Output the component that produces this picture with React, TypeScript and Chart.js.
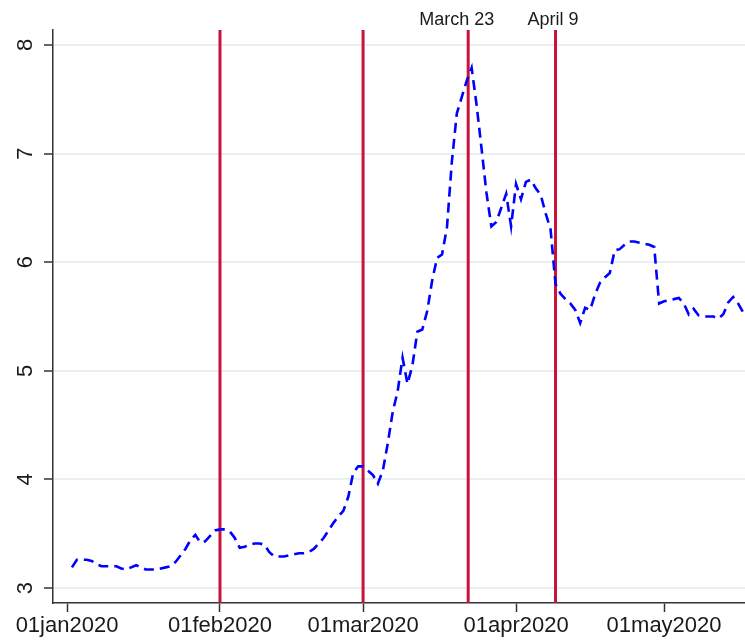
import React, { useEffect, useRef } from "react";
import { Chart, registerables } from "chart.js";
Chart.register(...registerables);

// day 0 = 01jan2020; series starts on day 1
const START_DAY = 1;
const values = [
  3.19, 3.26, 3.26, 3.26, 3.25, 3.22, 3.2, 3.2, 3.2, 3.2,
  3.18, 3.17, 3.19, 3.21, 3.19, 3.17, 3.17, 3.17, 3.18, 3.19,
  3.2, 3.24, 3.3, 3.36, 3.44, 3.49, 3.42, 3.43, 3.48, 3.53,
  3.54, 3.54, 3.52, 3.46, 3.37, 3.38, 3.4, 3.41, 3.41, 3.4,
  3.33, 3.29, 3.29, 3.29, 3.3, 3.31, 3.32, 3.32, 3.33, 3.36,
  3.41, 3.46, 3.53, 3.6, 3.66, 3.71, 3.84, 4.06, 4.12, 4.12,
  4.08, 4.04, 3.96, 4.08, 4.33, 4.62, 4.81, 5.12, 4.88, 5.05,
  5.36, 5.38, 5.55, 5.83, 6.04, 6.07, 6.32, 6.93, 7.37, 7.52,
  7.67, 7.79, 7.45, 7.05, 6.64, 6.33, 6.37, 6.5, 6.63, 6.33,
  6.72, 6.58, 6.74, 6.76, 6.68, 6.62, 6.45, 6.3, 5.8, 5.71,
  5.66, 5.62, 5.56, 5.44, 5.58, 5.56, 5.7, 5.81, 5.86, 5.9,
  6.11, 6.12, 6.16, 6.19, 6.19, 6.18, 6.17, 6.16, 6.14, 5.62,
  5.64, 5.65, 5.66, 5.67, 5.62, 5.52, 5.57, 5.51, 5.5, 5.5,
  5.5, 5.48, 5.52, 5.63, 5.68, 5.62, 5.54,
];
const tickDays = [0, 31, 60, 91, 121];
const tickLabels = ["01jan2020", "01feb2020", "01mar2020", "01apr2020", "01may2020"];
const yTicks = [3, 4, 5, 6, 7, 8];
const eventDays = [31, 60, 81.3, 99];
const noteLabels = ["March 23", "April 9"];
const noteDays = [79, 98.5];

const X_MIN = -2.84;
const X_MAX = 137.4;
const Y_MIN = 2.862;
const Y_MAX = 8.138;

const FONT = "'Liberation Sans', Arial, Helvetica, sans-serif";
const TEXT = "#1a1a1a";
const AXIS = "#333333";
const RED = "#C8143A";
const BLUE = "#0000FF";
const GRID = "#E8F0F2";

export default function App() {
  const ref = useRef<HTMLCanvasElement | null>(null);
  useEffect(() => {
    document.body.style.margin = "0";
    const canvas = ref.current;
    if (!canvas) return;
    const series = values.map((v, i) => ({ x: START_DAY + i, y: v }));
    const eventSets = eventDays.map((d) => ({
      type: "line" as const,
      data: [
        { x: d, y: Y_MIN },
        { x: d, y: Y_MAX },
      ],
      borderColor: RED,
      borderWidth: 3,
      pointRadius: 0,
      order: 2,
    }));
    const notesPlugin = {
      id: "notes",
      afterDraw(chart: any) {
        const ctx = chart.ctx;
        const xs = chart.scales.x;
        ctx.save();
        ctx.font = `18px ${FONT}`;
        ctx.fillStyle = TEXT;
        ctx.textAlign = "center";
        ctx.textBaseline = "alphabetic";
        noteLabels.forEach((t, i) => {
          ctx.fillText(t, xs.getPixelForValue(noteDays[i]), 25);
        });
        ctx.restore();
      },
    };
    const chart = new Chart(canvas, {
      type: "line",
      data: {
        datasets: [
          {
            data: series,
            borderColor: BLUE,
            borderWidth: 2.6,
            borderDash: [10, 6],
            pointRadius: 0,
            tension: 0,
            fill: false,
            order: 0,
          },
          ...eventSets,
        ] as any,
      },
      options: {
        animation: false,
        responsive: false,
        devicePixelRatio: 1,
        layout: { padding: { top: 30, right: 0, left: 0, bottom: 0 } },
        plugins: { legend: { display: false }, tooltip: { enabled: false } },
        scales: {
          x: {
            type: "linear",
            min: X_MIN,
            max: X_MAX,
            afterBuildTicks: (s: any) => {
              s.ticks = tickDays.map((v) => ({ value: v }));
            },
            afterFit: (s: any) => {
              s.height = 38;
            },
            ticks: {
              autoSkip: false,
              maxRotation: 0,
              minRotation: 0,
              padding: 1,
              color: TEXT,
              font: { family: FONT, size: 22 },
              callback: (v: any) => {
                const i = tickDays.indexOf(Number(v));
                return i >= 0 ? tickLabels[i] : "";
              },
            },
            grid: {
              drawOnChartArea: false,
              drawTicks: true,
              tickLength: 9,
              tickColor: AXIS,
              tickWidth: 1.5,
            },
            border: { display: true, color: AXIS, width: 1.5 },
          },
          y: {
            type: "linear",
            min: Y_MIN,
            max: Y_MAX,
            afterBuildTicks: (s: any) => {
              s.ticks = yTicks.map((v) => ({ value: v }));
            },
            afterFit: (s: any) => {
              s.width = 53;
            },
            ticks: {
              minRotation: 90,
              maxRotation: 90,
              crossAlign: "center",
              padding: 12,
              color: TEXT,
              font: { family: FONT, size: 22 },
              callback: (v: any) => String(v),
            },
            grid: {
              color: GRID,
              lineWidth: 2,
              drawTicks: true,
              tickLength: 9,
              tickColor: AXIS,
              tickWidth: 1.5,
            },
            border: { display: true, color: AXIS, width: 1.5 },
          },
        },
      },
      plugins: [notesPlugin],
    } as any);
    return () => chart.destroy();
  }, []);
  return <canvas ref={ref} width={745} height={641} style={{ display: "block" }} />;
}
